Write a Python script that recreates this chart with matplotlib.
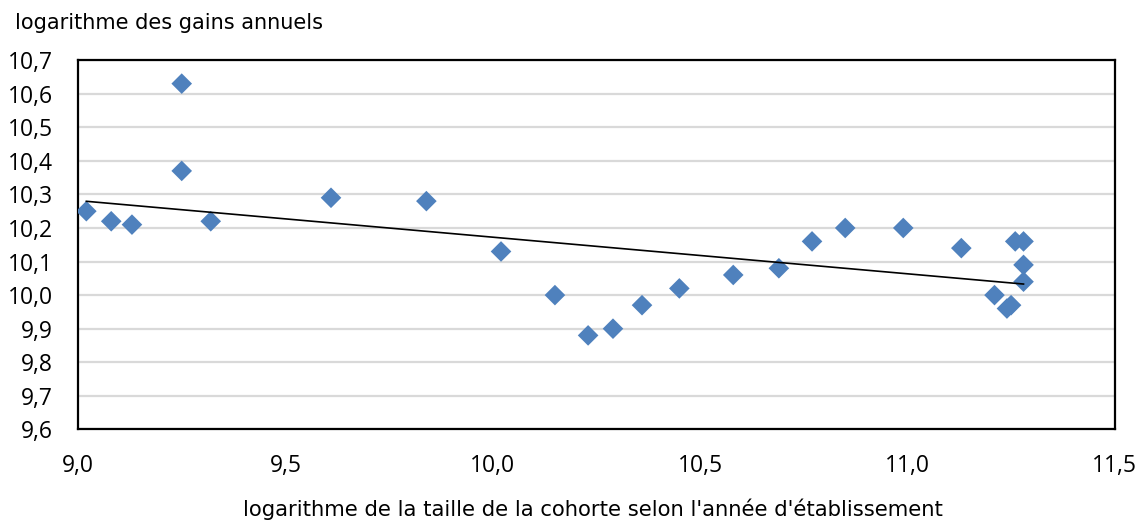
import numpy as np
import matplotlib
matplotlib.use("Agg")
import matplotlib.pyplot as plt
from matplotlib.ticker import FuncFormatter, MultipleLocator

# Data
cohort_log_size = [9.02, 9.08, 9.13, 9.25, 9.25, 9.32, 9.61, 9.84, 10.02, 10.15,
                   10.23, 10.29, 10.36, 10.45, 10.58, 10.69, 10.77, 10.85, 10.99,
                   11.13, 11.21, 11.24, 11.25, 11.26, 11.28, 11.28, 11.28]
log_earnings = [10.25, 10.22, 10.21, 10.63, 10.37, 10.22, 10.29, 10.28, 10.13, 10.00,
                9.88, 9.90, 9.97, 10.02, 10.06, 10.08, 10.16, 10.20, 10.20,
                10.14, 10.00, 9.96, 9.97, 10.16, 10.16, 10.09, 10.04]

y_title = "logarithme des gains annuels"
x_title = "logarithme de la taille de la cohorte selon l'année d'établissement"

x = np.array(cohort_log_size)
y = np.array(log_earnings)

fig = plt.figure(figsize=(11.41, 5.23), dpi=100)
ax = fig.add_axes([0.0684, 0.179, 0.9086, 0.706])

ax.set_xlim(9.0, 11.5)
ax.set_ylim(9.6, 10.7)
ax.xaxis.set_major_locator(MultipleLocator(0.5))
ax.yaxis.set_major_locator(MultipleLocator(0.1))
fmt1 = FuncFormatter(lambda v, p: f"{v:.1f}".replace(".", ","))
ax.xaxis.set_major_formatter(fmt1)
ax.yaxis.set_major_formatter(fmt1)

ax.yaxis.grid(True, color="#D9D9D9", linewidth=1.6)
ax.set_axisbelow(True)

ax.scatter(x, y, marker="D", s=10.5**2, color="#4F81BD", edgecolors="none", zorder=3)

# Linear trend line (OLS fit)
slope, intercept = np.polyfit(x, y, 1)
xs = np.array([x.min(), x.max()])
ax.plot(xs, slope * xs + intercept, color="black", linewidth=1.2, zorder=4)

for s in ax.spines.values():
    s.set_color("black")
    s.set_linewidth(1.6)

ax.tick_params(axis="both", length=0, labelsize=16.5, colors="#000000")
ax.tick_params(axis="x", pad=18)
ax.tick_params(axis="y", pad=18)
for lab in ax.get_xticklabels() + ax.get_yticklabels():
    lab.set_family(["Open Sans", "DejaVu Sans"])

fig.text(0.013, 0.956, y_title, fontsize=15, family="DejaVu Sans", ha="left", va="center")
fig.text(0.52, 0.026, x_title, fontsize=15.2, family="DejaVu Sans", ha="center", va="center")

fig.savefig("out.png", dpi=100, facecolor="white")
